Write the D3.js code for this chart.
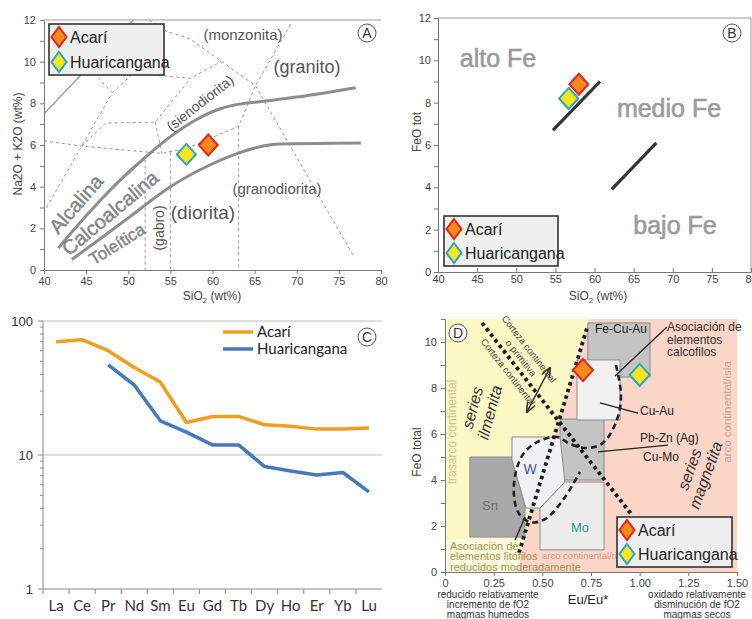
<!DOCTYPE html>
<html>
<head>
<meta charset="utf-8">
<script src="https://cdn.jsdelivr.net/npm/d3@7"></script>
<style>
body { margin: 0; background: #fff; }
svg { display: block; font-family: "Liberation Sans", Arial, sans-serif; }
</style>
</head>
<body>
<script>
// ---- data ----
const sampleNames = ["Acarí", "Huaricangana"];
const sampleFill = ["#f48a1e", "#f8e61c"];
const sampleStroke = ["#e2261b", "#2aa5c9"];

// A: TAS (SiO2 vs Na2O+K2O)
const tasSiO2 = [59.5, 56.9];
const tasAlk = [6.0, 5.55];
const alkLine = [[41.7, 1.05], [45, 2.6], [48, 3.9], [52, 5.4], [55, 6.4], [58, 7.2], [61, 7.75], [63, 7.95], [66, 8.1], [70, 8.3], [77, 8.75]];
const tholLine = [[43.3, 0.5], [47, 1.6], [50, 2.5], [55, 4.0], [60, 5.1], [63, 5.6], [66, 5.95], [68, 6.05], [77.6, 6.1]];
const thinSolid = [[40, 7.5], [50.6, 12]];
const tasDashed = [
  [[40.3, 3.0], [48.1, 8.5], [45.6, 9.6]],
  [[48.1, 8.5], [50.6, 9.45], [57.4, 9.2], [61, 10.0]],
  [[52.5, 12], [54.6, 11.45], [57.3, 11.1], [65.1, 8.85], [69.3, 5.9], [76.7, 0.7]],
  [[40, 6.2], [44.5, 5.95], [47, 5.85], [54, 5.6], [57, 5.85], [63.1, 6.9], [65.1, 8.85], [69.3, 11.8]],
  [[44.5, 5.95], [47.3, 7.05], [53.2, 7.1], [57.4, 9.2]],
  [[53.2, 7.1], [54, 5.6]],
  [[52, 5.3], [52, 0]],
  [[55, 5.65], [55, 0]],
  [[63.1, 6.9], [63.1, 0]]
];

// B: SiO2 vs FeO tot
const feSiO2 = [58.0, 56.7];
const feFeO = [8.87, 8.2];
const feLines = [[[54.7, 6.7], [60.7, 9.0]], [[62.2, 3.9], [67.9, 6.1]]];

// C: REE normalised
const reeLabels = ["La", "Ce", "Pr", "Nd", "Sm", "Eu", "Gd", "Tb", "Dy", "Ho", "Er", "Yb", "Lu"];
const reeAcari = [70, 72.5, 60, 45, 35, 17.5, 19.4, 19.4, 16.8, 16.4, 15.6, 15.6, 15.9];
const reeHuari = [null, null, 47, 33.3, 18, 14.8, 11.9, 11.9, 8.2, 7.6, 7.1, 7.4, 5.3];

// D: Eu/Eu* vs FeO total
const euRatio = [0.709, 1.0];
const feoTotal = [8.78, 8.57];
const pinkZone = [[0.36, 0], [0.74, 11], [1.5, 11], [1.5, 0]];
const paleZone = [[0, 0], [0.37, 0], [0.41, 1.45], [0, 1.45]];
const boxFeCuAu = [[0.734, 10.83], [1.053, 10.83], [1.053, 8.48], [0.734, 8.48]];
const boxCuAu = [[0.678, 9.22], [0.899, 9.22], [0.899, 6.61], [0.678, 6.61]];
const boxPbZn = [[0.591, 6.65], [0.817, 6.65], [0.817, 4.0], [0.591, 4.0]];
const boxW = [[0.344, 5.87], [0.591, 5.87], [0.616, 3.91], [0.488, 2.78], [0.416, 2.78], [0.344, 4.87]];
const boxSn = [[0.128, 5.0], [0.344, 5.0], [0.411, 2.78], [0.411, 1.52], [0.128, 1.52]];
const boxMo = [[0.488, 2.78], [0.616, 3.91], [0.817, 3.91], [0.817, 0.96], [0.488, 0.96]];
const ilmLine = [[0.38, 0.83], [0.729, 10.6]];
const crustLine = [[0.19, 10.83], [0.96, 2.48]];
const loopLine = [[0.878, 9.0], [0.904, 7.7], [0.883, 6.61], [0.811, 5.61], [0.729, 5.39], [0.642, 5.57], [0.575, 5.87],
  [0.473, 5.65], [0.395, 5.04], [0.354, 3.78], [0.375, 2.61], [0.437, 2.17], [0.514, 2.3], [0.606, 3.13], [0.693, 4.35]];
const pointers = [[[1.14, 10.65], [0.873, 8.52]], [[0.991, 6.91], [0.796, 7.35]], [[1.145, 5.52], [0.786, 5.22]], [[0.36, 1.39], [0.411, 2.39]]];
const arrowLine = [[0.421, 6.96], [0.539, 8.87]];

// ---- svg ----
const svg = d3.select("body").append("svg").attr("width", 752).attr("height", 619);
const narrow = "'Liberation Sans Narrow', 'Liberation Sans', Arial, sans-serif";

svg.append("defs").append("marker")
  .attr("id", "arr").attr("viewBox", "0 0 10 10").attr("refX", 9).attr("refY", 5)
  .attr("markerWidth", 7).attr("markerHeight", 7).attr("orient", "auto-start-reverse")
  .append("path").attr("d", "M0,1L10,5L0,9").attr("fill", "none").attr("stroke", "#333").attr("stroke-width", 1.5);

function diamond(g, cx, cy, i, w, h) {
  g.append("path")
    .attr("d", `M${cx},${cy - h}L${cx + w},${cy}L${cx},${cy + h}L${cx - w},${cy}Z`)
    .attr("fill", sampleFill[i]).attr("stroke", sampleStroke[i]).attr("stroke-width", 2);
}

function legendBox(g, x0, y0, x1, y1, dy) {
  g.append("rect").attr("x", x0).attr("y", y0).attr("width", x1 - x0).attr("height", y1 - y0)
    .attr("fill", "#efefef").attr("stroke", "#333").attr("stroke-width", 1.6);
  sampleNames.forEach((n, i) => {
    const cy = y0 + 13 + i * dy;
    diamond(g, x0 + 10, cy, i, 7.5, 10);
    g.append("text").attr("x", x0 + 21).attr("y", cy).attr("dy", "0.35em")
      .style("font-family", narrow).style("font-size", "16px").attr("fill", "#222").text(n);
  });
}

function styleAxis(g, size) {
  g.select(".domain").attr("stroke", "#777");
  g.selectAll(".tick line").attr("stroke", "#777");
  g.selectAll(".tick text").attr("fill", "#444").style("font-size", (size || 11) + "px")
    .style("font-family", "'Liberation Sans', Arial, sans-serif");
}

function circleLabel(g, x, y, t) {
  g.append("circle").attr("cx", x).attr("cy", y).attr("r", 9).attr("fill", "#fff").attr("stroke", "#555");
  g.append("text").attr("x", x).attr("y", y).attr("dy", "0.36em").attr("text-anchor", "middle")
    .style("font-size", "14px").attr("fill", "#333").text(t);
}

function sio2Label(g, x, y) {
  const t = g.append("text").attr("x", x).attr("y", y).attr("text-anchor", "middle")
    .style("font-size", "12px").attr("fill", "#444");
  t.append("tspan").text("SiO");
  t.append("tspan").attr("dy", 3).style("font-size", "8px").text("2");
  t.append("tspan").attr("dy", -3).text(" (wt%)");
}

function rotText(g, x, y, angle, text, size, fill, extra) {
  const t = g.append("text").attr("transform", `translate(${x},${y}) rotate(${angle})`)
    .attr("text-anchor", "middle").attr("dy", "0.35em")
    .style("font-size", size + "px").attr("fill", fill).text(text);
  if (extra) extra(t);
  return t;
}

// ================= Panel A =================
const xA = d3.scaleLinear().domain([40, 80]).range([44, 381]);
const yA = d3.scaleLinear().domain([0, 12]).range([270, 20]);
const gA = svg.append("g");
const lineA = d3.line().x(d => xA(d[0])).y(d => yA(d[1]));

gA.append("line").attr("x1", xA(40)).attr("x2", xA(80)).attr("y1", yA(12)).attr("y2", yA(12)).attr("stroke", "#999");

tasDashed.forEach(seg => gA.append("path").attr("d", lineA(seg)).attr("fill", "none")
  .attr("stroke", "#999").attr("stroke-width", 1).attr("stroke-dasharray", "3,3"));
gA.append("path").attr("d", lineA(thinSolid)).attr("fill", "none").attr("stroke", "#999").attr("stroke-width", 1.2);
const curveA = d3.line().x(d => xA(d[0])).y(d => yA(d[1])).curve(d3.curveMonotoneX);
[alkLine, tholLine].forEach(l => gA.append("path").attr("d", curveA(l)).attr("fill", "none")
  .attr("stroke", "#8d8d8d").attr("stroke-width", 3));

const axAx = gA.append("g").attr("transform", `translate(0,${yA(0)})`)
  .call(d3.axisBottom(xA).tickValues(d3.range(40, 81, 5)).tickSize(4).tickPadding(3));
styleAxis(axAx);
const axAy = gA.append("g").attr("transform", `translate(${xA(40)},0)`)
  .call(d3.axisLeft(yA).tickValues(d3.range(0, 13, 1)).tickFormat(d => d % 2 ? "" : d).tickSize(4).tickPadding(4));
styleAxis(axAy);

// field labels
gA.append("text").attr("x", 243).attr("y", 35).attr("dy", "0.35em").attr("text-anchor", "middle")
  .style("font-family", narrow).style("font-size", "15px").attr("fill", "#555").text("(monzonita)");
gA.append("text").attr("x", 307).attr("y", 67).attr("dy", "0.35em").attr("text-anchor", "middle")
  .style("font-size", "18px").attr("fill", "#555").text("(granito)");
rotText(gA, 200, 103, -38, "(sienodiorita)", 14, "#555", t => t.style("font-family", narrow));
gA.append("text").attr("x", 277).attr("y", 189).attr("dy", "0.35em").attr("text-anchor", "middle")
  .style("font-family", narrow).style("font-size", "15px").attr("fill", "#555").text("(granodiorita)");
gA.append("text").attr("x", 203).attr("y", 212).attr("dy", "0.35em").attr("text-anchor", "middle")
  .style("font-size", "19px").attr("fill", "#555").text("(diorita)");
rotText(gA, 159, 228, -90, "(gabro)", 14, "#555", t => t.style("font-family", narrow));
rotText(gA, 76, 204, -49, "Alcalina", 20, "#8a8a8a", t => t.attr("stroke", "#777").attr("stroke-width", 0.4));
rotText(gA, 110, 213, -40, "Calcoalcalina", 20, "#8a8a8a", t => t.attr("stroke", "#777").attr("stroke-width", 0.4));
rotText(gA, 117, 244, -32, "Toleítica", 17, "#8a8a8a", t => t.attr("stroke", "#777").attr("stroke-width", 0.4));

tasSiO2.forEach((v, i) => diamond(gA, xA(v), yA(tasAlk[i]), i, 9.5, 10.5));
legendBox(gA, 49, 24, 164, 75, 25);
circleLabel(gA, 367, 33, "A");
sio2Label(gA, 212, 300);
gA.append("text").attr("transform", "translate(22,144) rotate(-90)").attr("text-anchor", "middle")
  .style("font-size", "12px").attr("fill", "#444").text("Na2O + K2O (wt%)");

// ================= Panel B =================
const xB = d3.scaleLinear().domain([40, 80]).range([438, 751]);
const yB = d3.scaleLinear().domain([0, 12]).range([272, 18]);
const gB = svg.append("g");
const lineB = d3.line().x(d => xB(d[0])).y(d => yB(d[1]));

gB.append("path").attr("d", `M${xB(40)},${yB(12)}H${xB(80)}V${yB(0)}`).attr("fill", "none").attr("stroke", "#999");
const axBx = gB.append("g").attr("transform", `translate(0,${yB(0)})`)
  .call(d3.axisBottom(xB).tickValues(d3.range(40, 81, 5)).tickSize(-4).tickPadding(3));
styleAxis(axBx);
const axBy = gB.append("g").attr("transform", `translate(${xB(40)},0)`)
  .call(d3.axisLeft(yB).tickValues(d3.range(0, 13, 1)).tickFormat(d => d % 2 ? "" : d).tickSize(4).tickPadding(3));
styleAxis(axBy);

feLines.forEach(l => gB.append("path").attr("d", lineB(l)).attr("stroke", "#333").attr("stroke-width", 3.2).attr("fill", "none"));

[["alto Fe", 498, 58], ["medio Fe", 669, 108], ["bajo Fe", 675, 225]].forEach(([t, x, y]) =>
  gB.append("text").attr("x", x).attr("y", y).attr("dy", "0.35em").attr("text-anchor", "middle")
    .style("font-size", "25px").attr("fill", "#9b9b9b").attr("stroke", "#9b9b9b").attr("stroke-width", 0.6).text(t));

feSiO2.forEach((v, i) => diamond(gB, xB(v), yB(feFeO[i]), i, 9.5, 10.5));
legendBox(gB, 444, 216, 558, 266, 24);
circleLabel(gB, 732, 33, "B");
sio2Label(gB, 598, 300);
gB.append("text").attr("transform", "translate(421,132) rotate(-90)").attr("text-anchor", "middle")
  .style("font-size", "12px").attr("fill", "#444").text("FeO tot");

// ================= Panel C =================
const xC = d3.scaleBand().domain(reeLabels).range([43, 382]);
const yC = d3.scaleLog().domain([1, 100]).range([589, 321]);
const gC = svg.append("g");
const cx = (i) => xC(reeLabels[i]) + xC.bandwidth() / 2;

[10, 100].forEach(v => gC.append("line").attr("x1", 43).attr("x2", 382).attr("y1", yC(v)).attr("y2", yC(v))
  .attr("stroke", "#bdbdbd").attr("stroke-width", 1.2));
gC.append("line").attr("x1", 43).attr("x2", 43).attr("y1", yC(1)).attr("y2", yC(100)).attr("stroke", "#888");
gC.append("line").attr("x1", 43).attr("x2", 382).attr("y1", yC(1)).attr("y2", yC(1)).attr("stroke", "#888");

const logTicks = [];
[1, 10].forEach(dec => d3.range(1, 10).forEach(k => logTicks.push(dec * k)));
logTicks.push(100);
logTicks.forEach(v => {
  const major = [1, 10, 100].includes(v);
  gC.append("line").attr("x1", 43).attr("x2", 43 - (major ? 5 : 3)).attr("y1", yC(v)).attr("y2", yC(v)).attr("stroke", "#888");
  if (major) gC.append("text").attr("x", 33).attr("y", yC(v)).attr("dy", "0.35em").attr("text-anchor", "end")
    .style("font-size", "13px").attr("fill", "#333").text(v);
});
reeLabels.forEach((l, i) => {
  gC.append("line").attr("x1", xC(l)).attr("x2", xC(l)).attr("y1", yC(1)).attr("y2", yC(1) + 5).attr("stroke", "#888");
  gC.append("text").attr("x", cx(i)).attr("y", 606).attr("dy", "0.35em").attr("text-anchor", "middle")
    .style("font-family", "Lato, sans-serif").style("font-size", "15px").attr("fill", "#333").text(l);
});

const lineC = d3.line().defined(d => d != null).x((d, i) => cx(i)).y(d => yC(d));
[[reeAcari, "#f39c1e"], [reeHuari, "#4679b8"]].forEach(([s, c]) =>
  gC.append("path").attr("d", lineC(s)).attr("fill", "none").attr("stroke", c).attr("stroke-width", 3.5)
    .attr("stroke-linejoin", "round"));

[["#f39c1e", 332], ["#4679b8", 349]].forEach(([c, y], i) => {
  gC.append("line").attr("x1", 223).attr("x2", 253).attr("y1", y).attr("y2", y).attr("stroke", c).attr("stroke-width", 3.5);
  gC.append("text").attr("x", 257).attr("y", y).attr("dy", "0.35em").style("font-family", "Lato, sans-serif")
    .style("font-size", "15px").attr("fill", "#222").text(sampleNames[i]);
});
circleLabel(gC, 367, 337, "C");

// ================= Panel D =================
const xD = d3.scaleLinear().domain([0, 1.5]).range([445, 737]);
const yD = d3.scaleLinear().domain([0, 11]).range([572, 319]);
const gD = svg.append("g");
const lineD = d3.line().x(d => xD(d[0])).y(d => yD(d[1]));
const polyD = d3.line().x(d => xD(d[0])).y(d => yD(d[1])).curve(d3.curveLinearClosed);

gD.append("rect").attr("x", xD(0)).attr("y", yD(11)).attr("width", xD(1.5) - xD(0)).attr("height", yD(0) - yD(11)).attr("fill", "#fbf8c6");
gD.append("path").attr("d", polyD(pinkZone)).attr("fill", "#f9d6c8");
gD.append("path").attr("d", polyD(paleZone)).attr("fill", "#fcfbdf");

[[boxFeCuAu, "#c4c4c4"], [boxPbZn, "#c4c4c4"], [boxSn, "#a9a9a9"], [boxCuAu, "#f1f1f1"], [boxW, "#f1f1f3"], [boxMo, "#ececec"]]
  .forEach(([p, f]) => gD.append("path").attr("d", polyD(p)).attr("fill", f).attr("stroke", "#8c8c8c").attr("stroke-width", 1));

// dashed loop and thick dotted lines
gD.append("path").attr("d", d3.line().x(d => xD(d[0])).y(d => yD(d[1])).curve(d3.curveCatmullRom)(loopLine))
  .attr("fill", "none").attr("stroke", "#222").attr("stroke-width", 2.6).attr("stroke-dasharray", "6,4");
[ilmLine, crustLine].forEach(l => gD.append("path").attr("d", lineD(l)).attr("fill", "none")
  .attr("stroke", "#1a1a1a").attr("stroke-width", 3.8).attr("stroke-dasharray", "3.5,3.5"));
pointers.forEach(l => gD.append("path").attr("d", lineD(l)).attr("stroke", "#222").attr("stroke-width", 1.3));
gD.append("path").attr("d", lineD(arrowLine)).attr("stroke", "#333").attr("stroke-width", 1.5)
  .attr("marker-start", "url(#arr)").attr("marker-end", "url(#arr)");

const axDx = gD.append("g").attr("transform", `translate(0,${yD(0)})`)
  .call(d3.axisBottom(xD).tickValues([0, 0.25, 0.5, 0.75, 1, 1.25, 1.5]).tickFormat(d => d === 0 ? "0" : d3.format(".2f")(d)).tickSize(4).tickPadding(3));
styleAxis(axDx);
const axDy = gD.append("g").attr("transform", `translate(${xD(0)},0)`)
  .call(d3.axisLeft(yD).tickValues(d3.range(0, 11, 1)).tickFormat(d => d % 2 ? "" : d).tickSize(4).tickPadding(4));
styleAxis(axDy);

// labels inside D
const dText = (x, y, t, size, fill, anchor, fam) => gD.append("text").attr("x", x).attr("y", y).attr("dy", "0.35em")
  .attr("text-anchor", anchor || "start").style("font-size", size + "px").style("font-family", fam || null)
  .attr("fill", fill).text(t);
dText(595, 329, "Fe-Cu-Au", 12, "#222");
["Asociación de", "elementos", "calcofilos"].forEach((t, i) => dText(667, 327 + i * 12.5, t, 12, "#333", "start", narrow));
dText(640, 411, "Cu-Au", 12, "#222");
dText(640, 438, "Pb-Zn (Ag)", 12, "#222");
dText(643, 457, "Cu-Mo", 12, "#222");
dText(530, 469, "W", 14, "#3a5ba8", "middle");
dText(490, 505, "Sn", 13, "#6e6e6e", "middle");
dText(580, 527, "Mo", 13, "#2a9a86", "middle");
["Asociación de", "elementos litófilos", "reducidos moderadamente"].forEach((t, i) => dText(450, 546 + i * 10.5, t, 11, "#a8914a", "start", narrow));
dText(542, 556, "arco continental/rift", 9.5, "#d39a86", "start", narrow);
rotText(gD, 452, 432, -90, "trasarco continental", 12, "#cec58b");
rotText(gD, 727, 412, -90, "arco continental/isla", 11.5, "#c6a497");

const si = gD.append("g").attr("transform", "translate(481,410) rotate(-75)");
si.append("text").attr("y", -9).attr("text-anchor", "middle").attr("dy", "0.35em").style("font-size", "16px").style("font-style", "italic").attr("fill", "#333").text("series");
si.append("text").attr("y", 9).attr("text-anchor", "middle").attr("dy", "0.35em").style("font-size", "16px").style("font-style", "italic").attr("fill", "#333").text("ilmenita");
const sm = gD.append("g").attr("transform", "translate(697,472) rotate(-70)");
sm.append("text").attr("y", -8).attr("text-anchor", "middle").attr("dy", "0.35em").style("font-size", "16px").style("font-style", "italic").attr("fill", "#333").text("series");
sm.append("text").attr("y", 9).attr("text-anchor", "middle").attr("dy", "0.35em").style("font-size", "16px").style("font-style", "italic").attr("fill", "#333").text("magnetita");

rotText(gD, 529, 349, 52, "Corteza continental", 9.5, "#444");
rotText(gD, 521, 358, 52, "o primitiva", 9.5, "#444");
rotText(gD, 508, 372, 52, "Corteza continental", 9.5, "#444");

euRatio.forEach((v, i) => diamond(gD, xD(v), yD(feoTotal[i]), i, 10, 11));
legendBox(gD, 617, 517, 732, 567, 24);
circleLabel(gD, 458, 333, "D");

gD.append("text").attr("x", 588).attr("y", 604).attr("text-anchor", "middle").style("font-family", narrow)
  .style("font-size", "13px").attr("fill", "#222").text("Eu/Eu*");
gD.append("text").attr("transform", "translate(421,452) rotate(-90)").attr("text-anchor", "middle")
  .style("font-size", "12px").attr("fill", "#444").text("FeO total");
["reducido relativamente", "incremento de fO2", "magmas humedos"].forEach((t, i) =>
  dText(488, 594 + i * 10, t, 10, "#333", "middle", narrow));
["oxidado relativamente", "disminución de fO2", "magmas secos"].forEach((t, i) =>
  dText(697, 594 + i * 10, t, 10, "#333", "middle", narrow));
</script>
</body>
</html>
